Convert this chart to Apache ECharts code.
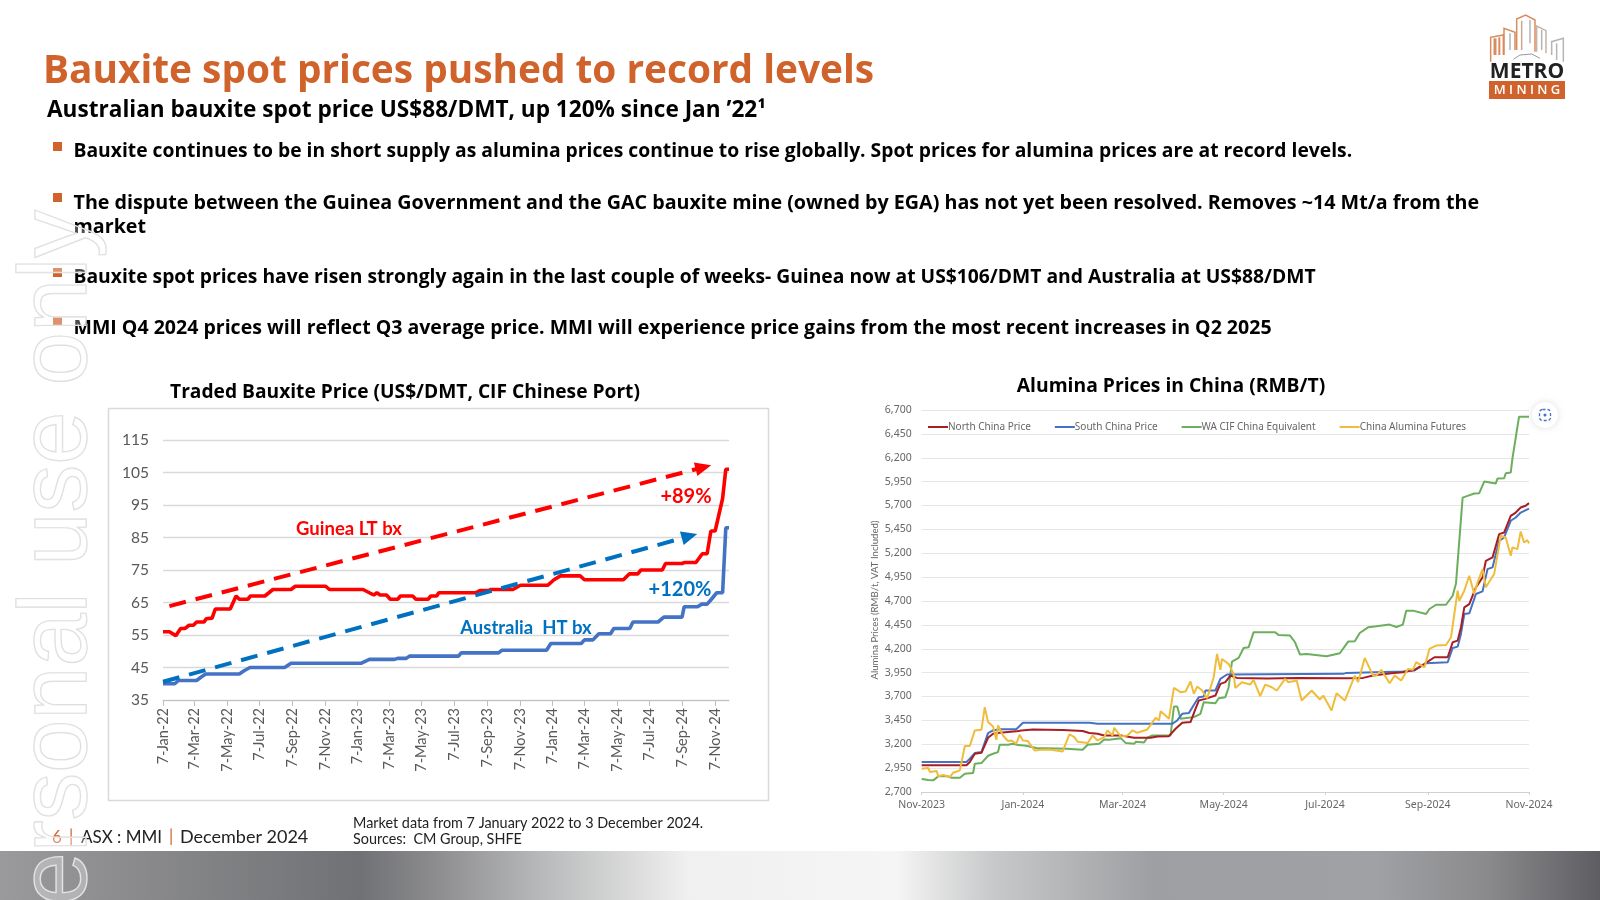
<!DOCTYPE html>
<html><head><meta charset="utf-8">
<script src="https://cdn.jsdelivr.net/npm/echarts@6/dist/echarts.min.js"></script>
<style>html,body{margin:0;padding:0;background:#fff}#c{width:1600px;height:900px}</style>
</head><body><div id="c"></div>
<script>
// ---- Left chart data: traded bauxite price (days since 7-Jan-22, US$/DMT)
const guineaDays=[0,12,24,33,41,49,57,63,77,81,92,98,126,137,143,159,164,191,206,240,248,305,312,375,395,401,407,419,426,440,445,468,474,497,502,513,517,586,594,611,615,656,670,721,733,745,782,790,863,874,890,896,936,942,973,977,999,1011,1020,1027,1035,1042,1049,1055,1061];
const guineaValues=[56,56,54.8,57,57,58,58,59,59,60,60.2,63,63,67,66,66,67,67,69,69,70,70,69,69,67.3,68,67.3,67.3,66,66,67,67,66,66,67,67,68,68,68.7,68.7,69,69,70.3,70.3,72,73.2,73.2,72,72,73.8,73.8,75,75,77,77,77.3,77.3,80,80,87,87,92,97,106,106];
const australiaDays=[0,22,29,63,71,80,143,152,163,228,240,371,387,434,440,456,462,554,559,629,635,719,727,784,790,806,817,839,845,875,881,928,939,973,977,1002,1010,1020,1028,1038,1049,1055,1061];
const australiaValues=[40,40,41,41,42,43,43,44,45,45,46.3,46.3,47.5,47.5,47.8,47.8,48.5,48.5,49.5,49.5,50.3,50.3,52.4,52.4,53.5,53.5,55.4,55.4,57,57,59,59,60.5,60.5,63.7,63.7,64.5,64.5,66,68,68,88,88];
const leftStart='2022-01-07', leftEnd='2024-12-03';
const leftTickDates=['2022-01-07','2022-03-07','2022-05-07','2022-07-07','2022-09-07','2022-11-07','2023-01-07','2023-03-07','2023-05-07','2023-07-07','2023-09-07','2023-11-07','2024-01-07','2024-03-07','2024-05-07','2024-07-07','2024-09-07','2024-11-07'];
const leftTickLabels=['7-Jan-22','7-Mar-22','7-May-22','7-Jul-22','7-Sep-22','7-Nov-22','7-Jan-23','7-Mar-23','7-May-23','7-Jul-23','7-Sep-23','7-Nov-23','7-Jan-24','7-Mar-24','7-May-24','7-Jul-24','7-Sep-24','7-Nov-24'];
const guineaArrowDays=[12,1013], guineaArrowValues=[63.9,106.6];
const australiaArrowDays=[0,987], australiaArrowValues=[40.6,85.4];

// ---- Right chart data: alumina prices in China (days since 1-Nov-23, RMB/t)
const northDays=[0,27,29,32,36,40,43,47,57,60,67,85,97,101,106,110,120,128,138,142,149,153,157,162,165,167,171,177,180,183,186,190,208,226,256,266,272,283,290,297,303,309,317,320,323,325,327,330,334,338,340,344,348,351,355,358,361,364,366];
const northValues=[2980,2980,3014,3100,3110,3268,3310,3320,3335,3345,3355,3350,3338,3317,3310,3292,3292,3268,3268,3282,3285,3362,3425,3432,3570,3658,3675,3710,3832,3850,3919,3895,3888,3895,3892,3895,3919,3944,3954,3979,4041,4111,4111,4268,4285,4425,4634,4668,4842,4947,5121,5156,5400,5417,5591,5626,5679,5697,5725];
const southDays=[0,27,29,32,36,40,43,47,57,61,101,106,151,154,157,161,165,167,170,171,177,180,184,254,256,290,297,304,317,320,323,325,327,330,334,338,341,344,348,351,355,358,361,366];
const southValues=[3014,3014,3048,3108,3118,3317,3345,3358,3358,3425,3425,3414,3414,3449,3519,3526,3640,3693,3700,3763,3763,3885,3930,3937,3947,3961,3972,4048,4059,4208,4222,4355,4564,4571,4773,4801,5034,5052,5330,5365,5540,5574,5626,5668];
const waDays=[0,4,7,10,15,18,23,26,31,32,36,40,43,46,47,52,55,58,63,69,87,97,100,107,110,113,120,123,128,129,134,136,139,150,152,154,156,164,168,170,177,179,183,185,187,191,194,197,200,213,215,222,225,228,232,244,252,257,261,264,269,274,282,286,290,292,296,304,306,310,316,320,322,323,326,329,333,336,339,346,347,351,352,355,356,357,360,366];
const waValues=[2836,2825,2822,2864,2867,2850,2850,2892,2899,2996,3003,3080,3100,3118,3195,3195,3205,3191,3184,3160,3153,3142,3195,3205,3250,3247,3264,3212,3205,3226,3219,3268,3292,3292,3595,3595,3466,3484,3519,3641,3630,3682,3693,3797,4066,4104,4208,4215,4372,4372,4345,4338,4268,4139,4146,4121,4153,4275,4278,4365,4424,4435,4453,4428,4453,4599,4599,4564,4616,4661,4661,4755,4884,4895,5783,5801,5825,5829,5951,5930,5982,5985,6038,6045,6191,6195,6630,6630];
const futuresDays=[0,4,5,9,10,13,17,19,23,26,29,32,36,38,40,43,45,46,49,52,54,57,59,61,64,68,72,77,85,89,92,94,100,103,106,110,112,115,116,120,124,127,130,136,141,143,144,149,150,152,156,159,162,164,166,169,172,176,178,180,181,185,188,189,193,198,200,204,207,211,214,219,221,226,229,235,240,242,247,250,255,261,263,267,272,274,277,282,285,289,293,296,298,303,306,310,316,319,321,323,324,327,330,333,335,338,340,345,349,352,355,356,359,361,363,365,366];
const futuresValues=[2944,2951,2909,2920,2864,2878,2857,2902,2926,3181,3181,3345,3351,3588,3432,3386,3247,3397,3292,3233,3240,3205,3299,3240,3233,3135,3142,3146,3125,3303,3275,3226,3212,3292,3240,3275,3345,3292,3372,3282,3292,3345,3320,3355,3477,3449,3547,3466,3456,3790,3745,3752,3857,3728,3804,3763,3682,3902,4146,3979,4093,4041,3937,3790,3850,3825,3874,3703,3825,3797,3763,3885,3850,3867,3658,3763,3669,3710,3554,3735,3658,3919,3850,4104,3919,3919,3979,3839,3919,3867,3989,3979,4059,4006,4198,4233,4240,4320,4564,4808,4703,4808,4965,4773,4895,5034,4843,4982,5383,5365,5174,5261,5243,5428,5313,5337,5303];
const rightStart='2023-11-01', rightEnd='2024-11-01';
const rightTickDates=['2023-11-01','2024-01-01','2024-03-01','2024-05-01','2024-07-01','2024-09-01','2024-11-01'];
const rightTickLabels=['Nov-2023','Jan-2024','Mar-2024','May-2024','Jul-2024','Sep-2024','Nov-2024'];

// ---- Slide text
const titleText='Bauxite spot prices pushed to record levels';
const subtitleText='Australian bauxite spot price US$88/DMT, up 120% since Jan ’22¹';
const bulletLines=['Bauxite continues to be in short supply as alumina prices continue to rise globally. Spot prices for alumina prices are at record levels.','The dispute between the Guinea Government and the GAC bauxite mine (owned by EGA) has not yet been resolved. Removes ~14 Mt/a from the','market','Bauxite spot prices have risen strongly again in the last couple of weeks- Guinea now at US$106/DMT and Australia at US$88/DMT','MMI Q4 2024 prices will reflect Q3 average price. MMI will experience price gains from the most recent increases in Q2 2025'];

const DAY=86400000;
const dayOf=(start,d)=>(Date.parse(d)-Date.parse(start))/DAY;
const pairs=(days,vals)=>days.map((d,i)=>[d,vals[i]]);
const leftTicks=leftTickDates.map(d=>dayOf(leftStart,d));
const rightTicks=rightTickDates.map(d=>dayOf(rightStart,d));
const FONT='Lato', HEAD='Open Sans';
const ORANGE='#D0622B';
const T=(text,x,y,size,color,opt={})=>({type:'text',x,y,z:opt.z||50,silent:true,rotation:opt.rotation||0,
  style:{text,fontFamily:opt.family||FONT,fontSize:size,fontWeight:opt.weight||'normal',fill:color,align:opt.align||'left',verticalAlign:opt.va||'middle',stroke:opt.stroke,lineWidth:opt.lw}});
const poly=(pts,color,w=1.2)=>({type:'polyline',z:50,silent:true,shape:{points:pts.map(p=>[1460+p[0]/3,p[1]/3])},style:{stroke:color,lineWidth:w,fill:null}});
const sq=(y)=>({type:'rect',z:49,silent:true,shape:{x:53,y,width:9,height:9},style:{fill:ORANGE}});
const B={weight:'bold',family:HEAD};
const BC={weight:'bold',family:HEAD,align:'center'};

const graphics=[
 {type:'rect',z:-1,silent:true,shape:{x:108.5,y:408.5,width:660,height:392},style:{fill:'#fff',stroke:'#d9d9d9',lineWidth:1.5}},
 {type:'rect',z:-1,silent:true,shape:{x:0,y:851,width:1600,height:49},style:{fill:new echarts.graphic.LinearGradient(0,0,1,0,[
   {offset:0,color:'#9a9a9c'},{offset:.225,color:'#707174'},{offset:.27,color:'#8b8b8e'},{offset:.34,color:'#b9babb'},{offset:.43,color:'#f0f0f0'},{offset:.56,color:'#f5f5f5'},{offset:.62,color:'#c8c9ca'},{offset:.72,color:'#9e9fa2'},{offset:.86,color:'#a0a1a4'},{offset:.93,color:'#8a8a8d'},{offset:1,color:'#5e5e62'}])}},
 T(titleText,43,72,38.8,ORANGE,B),
 T(subtitleText,47,111,22.6,'#000',B),
 T(bulletLines[0],73.5,152,19.3,'#000',B),
 T(bulletLines[1],73.5,203,19.7,'#000',B),
 T(bulletLines[2],73.5,227,19.7,'#000',B),
 T(bulletLines[3],73.5,278,19.3,'#000',B),
 T(bulletLines[4],73.5,328,19.55,'#000',B),
 sq(142),sq(193),sq(268),sq(317),
 T('Traded Bauxite Price (US$/DMT, CIF Chinese Port)',405,393,19.2,'#000',BC),
 T('Alumina Prices in China (RMB/T)',1171,387,19.3,'#000',BC),
 T('Guinea LT bx',349,529,18.5,'#FF0000',{weight:'bold',align:'center'}),
 T('+89%',686,497,20,'#FF0000',{weight:'bold',align:'center'}),
 T('+120%',680,590,20,'#0070C0',{weight:'bold',align:'center'}),
 T('Australia  HT bx',526,628,18.5,'#0070C0',{weight:'bold',align:'center'}),
 T('Alumina Prices (RMB/t, VAT Included)',875,600,9.6,'#666',{rotation:Math.PI/2,align:'center'}),
 T('6',52,837.5,17,ORANGE),
 T('|',69,837,17,ORANGE),
 T('ASX : MMI',81,837.5,17,'#222'),
 T('|',169,837,17,ORANGE),
 T('December 2024',180,837.5,18,'#222'),
 T('Market data from 7 January 2022 to 3 December 2024.',353,823,14.4,'#222'),
 T('Sources:  CM Group, SHFE',353,839,14.4,'#222'),
 poly([[92,185],[92,112],[130,105],[130,165]],'#D98A5E',1.5),
 poly([[132,165],[132,85],[165,97],[165,150]],'#D98A5E',1.5),
 poly([[170,150],[170,57],[197,45],[225,60],[225,155]],'#D98A5E',1.5),
 poly([[230,155],[230,78],[258,92],[258,160]],'#C9B3A6',1.5),
 poly([[275,165],[275,125],[310,115],[310,185]],'#B5B5B5',1.5),
 poly([[105,115],[105,165]],'#D98A5E',3),poly([[118,112],[118,165]],'#D98A5E',2),poly([[150,100],[150,150]],'#b5b5b5',1.5),
 poly([[185,62],[185,150]],'#C9A890',1.5),poly([[210,60],[210,130]],'#b5b5b5',1.5),poly([[245,90],[245,150]],'#b5b5b5',1.5),poly([[290,130],[290,180]],'#b5b5b5',1.5),
 poly([[160,178],[180,165],[215,162],[240,175]],'#9a9a9a',1),
 T('METRO',1527,72,21,'#222',{weight:'bold',align:'center',family:'Open Sans'}),
 {type:'rect',z:49,silent:true,shape:{x:1489,y:81,width:76,height:18},style:{fill:ORANGE}},
 T('M I N I N G',1527,90.5,13,'#fff',{align:'center',family:'Open Sans',weight:'600'}),
 {type:'circle',z:60,silent:true,shape:{cx:1545,cy:415,r:13},style:{fill:'#fff',shadowBlur:6,shadowColor:'rgba(0,0,0,.12)'}},
 {type:'rect',z:61,silent:true,shape:{x:1539.5,y:409.5,width:11,height:11,r:3},style:{fill:null,stroke:'#4472C4',lineWidth:1.3,lineDash:[3,2]}},
 {type:'circle',z:61,silent:true,shape:{cx:1545,cy:415,r:1.5},style:{fill:'#4472C4'}},
 {type:'text',x:108,y:210,z:100,silent:true,rotation:Math.PI/2,style:{text:'Personal use only',fontFamily:'Liberation Sans',fontSize:95.5,fill:'rgba(255,255,255,.3)',stroke:'#dcdcdc',lineWidth:1.4,align:'right',verticalAlign:'bottom'}}
];

const chart=echarts.init(document.getElementById('c'));
const arrow=(days,vals,color)=>({silent:true,clip:false,symbol:['none','triangle'],symbolSize:[14,16],label:{show:false},
  lineStyle:{color,width:4,type:[17,10],cap:'butt'},itemStyle:{color},
  data:[[{coord:[days[0],vals[0]]},{coord:[days[1],vals[1]]}]]});
const line=(name,xi,yi,data,color,width,extra={})=>Object.assign({name,type:'line',xAxisIndex:xi,yAxisIndex:yi,data,symbol:'none',smooth:false,animation:false,lineStyle:{color,width},itemStyle:{color},clip:false},extra);

chart.setOption({
 animation:false,
 backgroundColor:'#fff',
 grid:[{left:163,top:440,width:566,height:260},{left:921.7,top:410,width:607.3,height:382}],
 legend:{data:['North China Price','South China Price','WA CIF China Equivalent','China Alumina Futures'],left:923,top:417,icon:'rect',itemWidth:20,itemHeight:2,itemGap:24,selectedMode:false,textStyle:{fontFamily:'Noto Sans',fontSize:10,color:'#666',padding:[0,0,0,-5]}},
 xAxis:[
  {type:'value',gridIndex:0,min:0,max:dayOf(leftStart,leftEnd),splitLine:{show:false},
   axisLine:{onZero:false,lineStyle:{color:'#bfbfbf',width:1}},axisTick:{show:true,customValues:leftTicks,lineStyle:{color:'#bfbfbf'},length:6},
   axisLabel:{customValues:leftTicks,formatter:v=>leftTickLabels[leftTicks.indexOf(v)],rotate:90,fontFamily:FONT,fontSize:14.5,color:'#595959',margin:8,hideOverlap:false}},
  {type:'value',gridIndex:1,min:0,max:dayOf(rightStart,rightEnd),splitLine:{show:false},
   axisLine:{onZero:false,lineStyle:{color:'#d0d0d0',width:1}},axisTick:{show:true,customValues:rightTicks,lineStyle:{color:'#d0d0d0'},length:3},
   axisLabel:{customValues:rightTicks,formatter:v=>rightTickLabels[rightTicks.indexOf(v)],fontFamily:'Noto Sans',fontSize:10.5,color:'#666',margin:8,hideOverlap:false}}
 ],
 yAxis:[
  {type:'value',gridIndex:0,min:35,max:115,interval:10,axisLine:{show:false},axisTick:{show:false},
   splitLine:{lineStyle:{color:'#d9d9d9',width:1.3}},axisLabel:{fontFamily:FONT,fontSize:15.5,color:'#595959',margin:14}},
  {type:'value',gridIndex:1,min:2700,max:6700,interval:250,axisLine:{show:false},axisTick:{show:false},
   splitLine:{lineStyle:{color:'#e6e6e6',width:1}},axisLabel:{fontFamily:'Noto Sans',fontSize:10.5,color:'#666',margin:10,formatter:v=>v.toLocaleString('en-US')}}
 ],
 series:[
  line('Guinea LT bx',0,0,pairs(guineaDays,guineaValues),'#FF0000',3.6,{markLine:arrow(guineaArrowDays,guineaArrowValues,'#FF0000')}),
  line('Australia HT bx',0,0,pairs(australiaDays,australiaValues),'#4472C4',3.6,{markLine:arrow(australiaArrowDays,australiaArrowValues,'#0070C0')}),
  line('WA CIF China Equivalent',1,1,pairs(waDays,waValues),'#6BAE5C',2),
  line('South China Price',1,1,pairs(southDays,southValues),'#4472C4',2),
  line('North China Price',1,1,pairs(northDays,northValues),'#A81E22',2),
  line('China Alumina Futures',1,1,pairs(futuresDays,futuresValues),'#F0BC3C',2)
 ],
 graphic:{elements:graphics}
});
</script></body></html>
